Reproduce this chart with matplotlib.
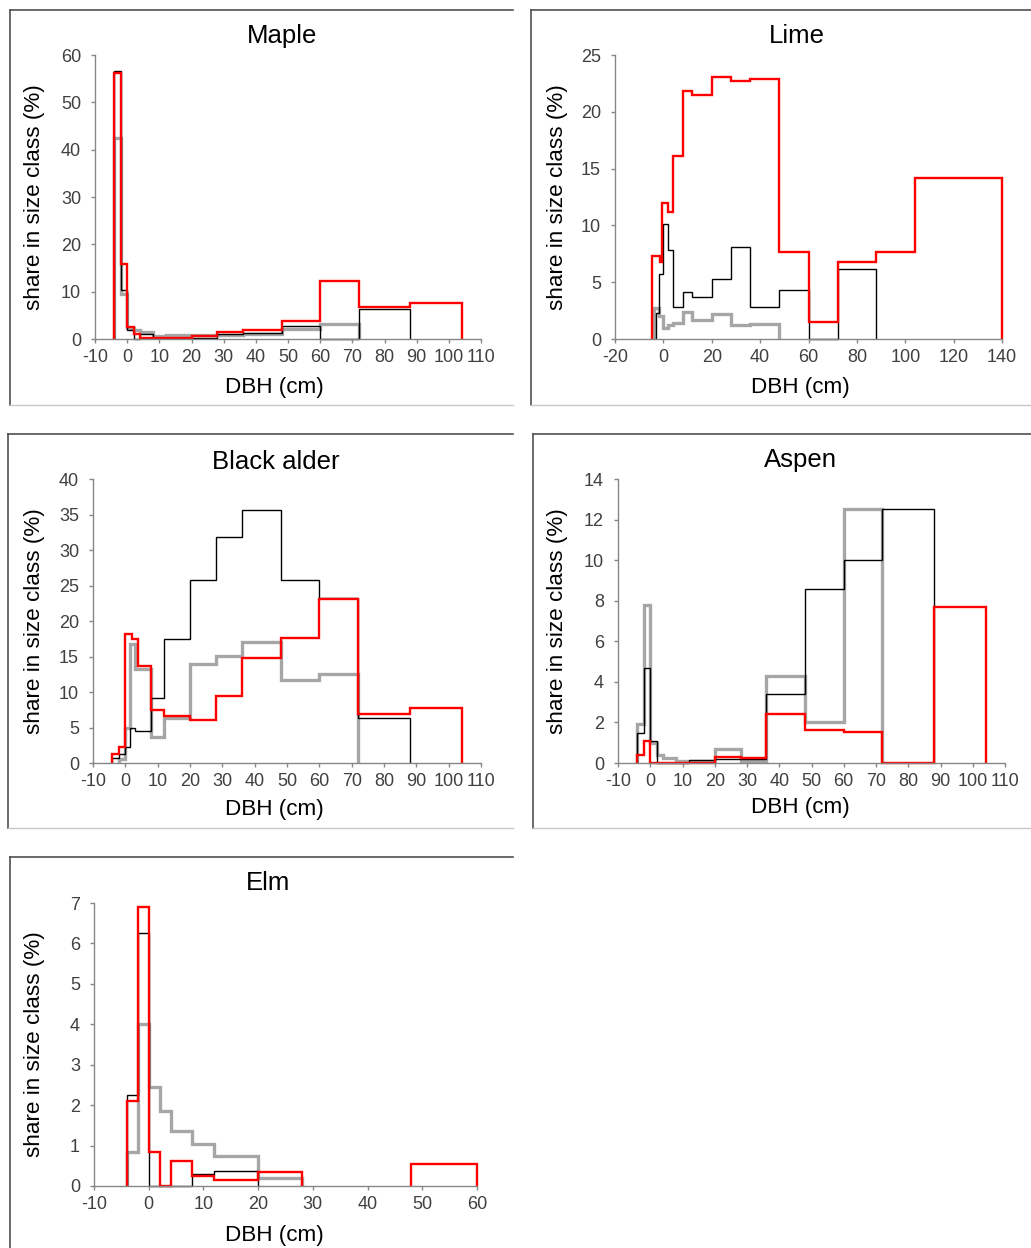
import numpy as np
import matplotlib
matplotlib.use('Agg')
import matplotlib.pyplot as plt
from matplotlib.lines import Line2D

plt.rcParams['font.family'] = ['Liberation Sans', 'DejaVu Sans']
plt.rcParams['axes.unicode_minus'] = False

# ---- data (share in size class, %) ----
maple_gray_edges = [-4, -2, 0, 2, 4, 8, 12, 20, 28, 36, 48, 60, 72]
maple_gray = [42.5, 9.5, 2.3, 2.0, 1.5, 0.6, 0.8, 0.8, 0.8, 1.0, 2.2, 3.2]
maple_black_edges = [-4, -2, 0, 2, 4, 8, 12, 20, 28, 36, 48, 60, 72, 88]
maple_black = [56.6, 10.4, 1.8, 0.1, 1.0, 0.3, 0.3, 0.3, 1.0, 1.2, 2.8, 0.0, 6.4]
maple_red_edges = [-4, -2, 0, 2, 4, 8, 12, 20, 28, 36, 48, 60, 72, 88, 104]
maple_red = [56.2, 15.8, 2.5, 1.1, 0.3, 0.3, 0.3, 0.6, 1.4, 2.0, 3.9, 12.3, 6.7, 7.7]

lime_gray_edges = [-4, -2, 0, 2, 4, 8, 12, 20, 28, 36, 48]
lime_gray = [2.7, 2.0, 1.0, 1.2, 1.4, 2.4, 1.7, 2.2, 1.2, 1.3]
lime_black_edges = [-3, -2, 0, 2, 4, 8, 12, 20, 28, 36, 48, 60, 72, 88]
lime_black = [2.3, 5.7, 10.1, 7.8, 2.8, 4.1, 3.7, 5.3, 8.1, 2.8, 4.3, 0.0, 6.2]
lime_red_edges = [-4.5, -1.5, -0.5, 2, 4, 8, 12, 20, 28, 36, 48, 60, 72, 88, 104, 140]
lime_red = [7.3, 6.8, 12.0, 11.2, 16.1, 21.8, 21.5, 23.1, 22.7, 22.9, 7.7, 1.5, 6.8, 7.7, 14.2]

alder_gray_edges = [-2, 0, 1.5, 3, 8, 12, 20, 28, 36, 48, 60, 72]
alder_gray = [0.5, 5.0, 16.8, 13.3, 3.6, 6.4, 13.9, 15.1, 17.1, 11.7, 12.5]
alder_black_edges = [-4, -2, 0, 1.3, 3, 8, 12, 20, 28, 36, 48, 60, 72, 88]
alder_black = [0.7, 1.2, 2.3, 4.9, 4.5, 9.1, 17.5, 25.8, 31.8, 35.6, 25.8, 23.3, 6.4]
alder_red_edges = [-4, -2, 0, 2, 4, 8, 12, 20, 28, 36, 48, 60, 72, 88, 104]
alder_red = [1.2, 2.3, 18.2, 17.4, 13.6, 7.4, 6.6, 6.0, 9.4, 14.8, 17.6, 23.1, 6.9, 7.7]

aspen_gray_edges = [-4, -2, 0, 2, 4, 8, 12, 20, 28, 36, 48, 60, 72]
aspen_gray = [1.9, 7.8, 1.0, 0.4, 0.25, 0.1, 0.1, 0.7, 0.1, 4.3, 2.0, 12.5]
aspen_black_edges = [-4, -2, 0, 2, 4, 8, 12, 20, 28, 36, 48, 60, 72, 88]
aspen_black = [1.5, 4.7, 1.1, 0.0, 0.0, 0.0, 0.15, 0.2, 0.2, 3.4, 8.6, 10.0, 12.5]
aspen_red_edges = [-4, -2, 0, 2, 4, 8, 12, 20, 28, 36, 48, 60, 72, 88, 104]
aspen_red = [0.4, 1.1, 0.0, 0.0, 0.0, 0.0, 0.0, 0.3, 0.25, 2.4, 1.65, 1.55, 0.0, 7.7]

elm_gray_edges = [-4, -2, 0, 2, 4, 8, 12, 20, 28]
elm_gray = [0.85, 4.0, 2.45, 1.85, 1.35, 1.05, 0.75, 0.2]
elm_black_edges = [-4, -2, 0, 2, 4, 8, 12, 20]
elm_black = [2.25, 6.25, 0.0, 0.0, 0.0, 0.3, 0.37]
elm_red_edges = [-4, -2, 0, 2, 4, 8, 12, 20, 28, 36, 48, 60]
elm_red = [2.1, 6.9, 0.85, 0.0, 0.62, 0.25, 0.15, 0.35, np.nan, np.nan, 0.55]

W, H = 1031, 1248
AXIS_GRAY = '#868686'
TEXT_COL = '#404040'


def px_rect(left, top, right, bottom):
    return [left / W, 1 - bottom / H, (right - left) / W, (bottom - top) / H]


def draw_steps(ax, edges, values, **kw):
    # split at NaN so gaps are not drawn
    values = np.asarray(values, dtype=float)
    edges = np.asarray(edges, dtype=float)
    start = None
    for i in range(len(values) + 1):
        ok = i < len(values) and not np.isnan(values[i])
        if ok and start is None:
            start = i
        elif not ok and start is not None:
            ax.stairs(values[start:i], edges[start:i + 1], baseline=0,
                      clip_on=False, **kw)
            start = None


def frame(x0, y0, x1, y1):
    fig.add_artist(Line2D([x0 / W, x1 / W], [1 - y0 / H, 1 - y0 / H],
                          transform=fig.transFigure, color='#505050', lw=1.2))
    fig.add_artist(Line2D([x0 / W, x0 / W], [1 - y0 / H, 1 - y1 / H],
                          transform=fig.transFigure, color='#505050', lw=1.2))
    fig.add_artist(Line2D([x0 / W, x1 / W], [1 - y1 / H, 1 - y1 / H],
                          transform=fig.transFigure, color='#c8c8c8', lw=1.0))


def panel(rect, title, title_xy, ylabel_x, xlabel_xy, xlim, xstep, ylim, ystep, series):
    ax = fig.add_axes(px_rect(*rect))
    gray, black, red = series
    draw_steps(ax, *gray, color='#a6a6a6', lw=2.4)
    draw_steps(ax, *black, color='black', lw=1.0)
    draw_steps(ax, *red, color='#ff0000', lw=1.7)

    ax.set_xlim(*xlim)
    ax.set_ylim(*ylim)
    ax.set_xticks(np.arange(xlim[0], xlim[1] + 1, xstep))
    ax.set_yticks(np.arange(ylim[0], ylim[1] + 0.001, ystep))
    ax.spines['top'].set_visible(False)
    ax.spines['right'].set_visible(False)
    for s in ('left', 'bottom'):
        ax.spines[s].set_color(AXIS_GRAY)
        ax.spines[s].set_linewidth(1.0)
    ax.tick_params(axis='both', direction='out', length=3, width=1,
                   color=AXIS_GRAY, labelcolor=TEXT_COL, labelsize=13)
    ax.tick_params(axis='y', pad=7)
    ax.tick_params(axis='x', pad=4)
    ax.set_facecolor('none')

    fig.text(title_xy[0] / W, 1 - title_xy[1] / H, title, ha='center', va='center',
             fontsize=18.5, color='black')
    fig.text(ylabel_x / W, 1 - (rect[1] + rect[3]) / 2 / H, 'share in size class (%)',
             rotation=90, ha='center', va='center', fontsize=16.2, color='black')
    fig.text(xlabel_xy[0] / W, 1 - xlabel_xy[1] / H, 'DBH (cm)', ha='center',
             va='center', fontsize=16.2, color='black')
    return ax


fig = plt.figure(figsize=(W / 100, H / 100), dpi=100)

frame(10, 10, 513, 405)
frame(531, 10, 1031, 405)
frame(8, 434, 513, 828)
frame(533, 434, 1031, 828)
frame(10, 857, 513, 1250)

panel((95, 55, 481, 339), 'Maple', (282, 36), 35, (274, 387),
      (-10, 110), 10, (0, 60), 10,
      [(maple_gray_edges, maple_gray), (maple_black_edges, maple_black),
       (maple_red_edges, maple_red)])

panel((615, 55, 1002, 339), 'Lime', (797, 36), 558, (800, 387),
      (-20, 140), 20, (0, 25), 5,
      [(lime_gray_edges, lime_gray), (lime_black_edges, lime_black),
       (lime_red_edges, lime_red)])

panel((93, 479, 481, 763), 'Black alder', (276, 462), 35, (274, 810),
      (-10, 110), 10, (0, 40), 5,
      [(alder_gray_edges, alder_gray), (alder_black_edges, alder_black),
       (alder_red_edges, alder_red)])

panel((618, 479, 1005, 763), 'Aspen', (800, 460), 558, (800, 808),
      (-10, 110), 10, (0, 14), 2,
      [(aspen_gray_edges, aspen_gray), (aspen_black_edges, aspen_black),
       (aspen_red_edges, aspen_red)])

panel((94, 903, 477, 1186), 'Elm', (268, 883), 35, (274, 1235),
      (-10, 60), 10, (0, 7), 1,
      [(elm_gray_edges, elm_gray), (elm_black_edges, elm_black),
       (elm_red_edges, elm_red)])

fig.savefig('out.png', dpi=100)
